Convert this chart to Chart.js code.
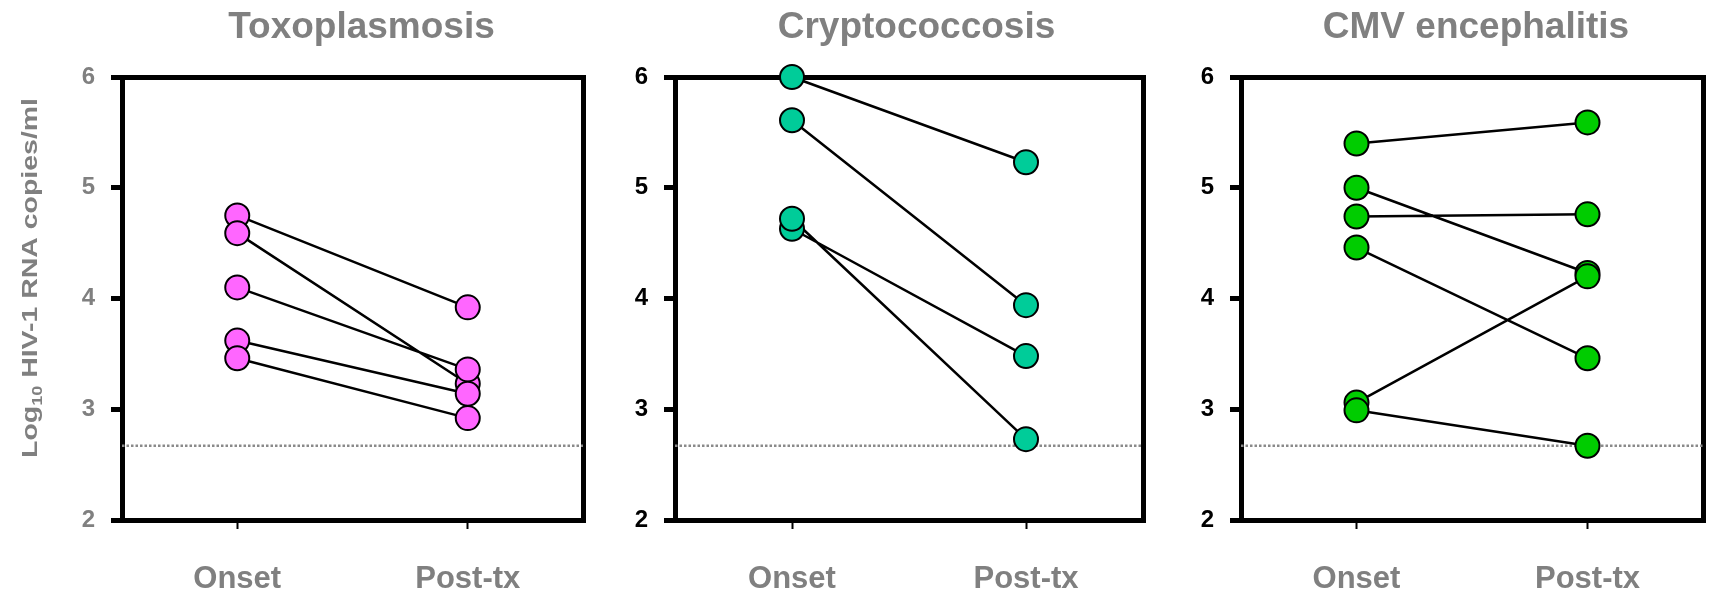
<!DOCTYPE html>
<html>
<head>
<meta charset="utf-8">
<script src="https://cdn.jsdelivr.net/npm/chart.js@4.4.1/dist/chart.umd.min.js"></script>
<style>
  html, body { margin: 0; padding: 0; background: #ffffff; overflow: hidden; }
  #wrap { position: relative; width: 1710px; height: 594px; overflow: hidden; }
  .panel { position: absolute; top: 0; height: 594px; }
  canvas { display: block; }
</style>
</head>
<body>
<div id="wrap">
  <div class="panel" id="p1"><canvas id="c1"></canvas></div>
  <div class="panel" id="p2"><canvas id="c2"></canvas></div>
  <div class="panel" id="p3"><canvas id="c3"></canvas></div>
</div>
<script>
// Time points and value axis
const timepoints = ['Onset', 'Post-tx'];
const yTickValues = [2, 3, 4, 5, 6];
const detectionLimit = 2.67;

// Log10 HIV-1 RNA copies/ml per patient, at onset and after treatment
const toxoOnset   = [4.75, 4.59, 4.10, 3.62, 3.46];
const toxoPost    = [3.92, 3.23, 3.36, 3.14, 2.92];
const cryptoOnset = [6.00, 5.61, 4.63, 4.72];
const cryptoPost  = [5.23, 3.94, 3.48, 2.73];
const cmvOnset    = [5.40, 5.00, 4.74, 4.46, 3.06, 2.99];
const cmvPost     = [5.59, 4.23, 4.76, 3.46, 4.20, 2.67];

const panelTitles = ['Toxoplasmosis', 'Cryptococcosis', 'CMV encephalitis'];

const FONT = '"Liberation Sans", Arial, Helvetica, sans-serif';
const GREY = '#808080';

// Paired points joined by a line; null rows break the line between patients
function pairedData(onset, post) {
  const out = [];
  onset.forEach((v, i) => {
    out.push({ x: 0, y: v });
    out.push({ x: 1, y: post[i] });
    out.push({ x: 0.5, y: null });
  });
  return out;
}

// Closed box around the plotting area, drawn under the markers
const framePlugin = {
  id: 'frame',
  beforeDatasetsDraw(chart) {
    const { ctx, chartArea: a } = chart;
    const al = v => Math.round(v - 2.5) + 2.5;
    ctx.save();
    ctx.strokeStyle = '#000';
    ctx.lineWidth = 5;
    ctx.lineJoin = 'miter';
    ctx.strokeRect(al(a.left), al(a.top), al(a.right) - al(a.left), al(a.bottom) - al(a.top));
    ctx.restore();
  }
};

// Rotated value-axis caption with a subscript
const yCaptionPlugin = {
  id: 'yCaption',
  afterDraw(chart, args, opts) {
    if (!opts.show) return;
    const ctx = chart.ctx;
    const F = opts.size;
    const base = `bold ${F}px ${FONT}`;
    const small = `bold ${Math.round(F * 0.62)}px ${FONT}`;
    ctx.save();
    ctx.font = base;
    const w1 = ctx.measureText('Log').width;
    const w3 = ctx.measureText(' HIV-1 RNA copies/ml').width;
    ctx.font = small;
    const w2 = ctx.measureText('10').width;
    const total = w1 + w2 + w3;
    const k = opts.length / total;
    ctx.translate(opts.x, opts.y);
    ctx.rotate(-Math.PI / 2);
    ctx.scale(k, 1);
    ctx.fillStyle = GREY;
    ctx.textBaseline = 'alphabetic';
    ctx.textAlign = 'left';
    const baseY = 0.358 * F;
    let x = -total / 2;
    ctx.font = base;
    ctx.fillText('Log', x, baseY);
    x += w1;
    ctx.font = small;
    ctx.fillText('10', x, baseY + 0.22 * F);
    x += w2;
    ctx.font = base;
    ctx.fillText(' HIV-1 RNA copies/ml', x, baseY);
    ctx.restore();
  }
};

const panels = [
  { id: 'c1', box: 'p1', left: 0,    width: 723, yWidth: 122, rightWidth: 140,
    onset: toxoOnset, post: toxoPost, fill: '#ff66ff', tickColor: GREY, caption: true },
  { id: 'c2', box: 'p2', left: 600,  width: 633, yWidth: 75,  rightWidth: 90,
    onset: cryptoOnset, post: cryptoPost, fill: '#00cc99', tickColor: '#000', caption: false },
  { id: 'c3', box: 'p3', left: 1160, width: 632, yWidth: 81,  rightWidth: 89,
    onset: cmvOnset, post: cmvPost, fill: '#00cc00', tickColor: '#000', caption: false }
];

panels.forEach((p, idx) => {
  const box = document.getElementById(p.box);
  box.style.left = p.left + 'px';
  box.style.width = p.width + 'px';
  const cv = document.getElementById(p.id);
  cv.width = p.width;
  cv.height = 594;
  cv.style.width = p.width + 'px';
  cv.style.height = '594px';

  new Chart(cv, {
    type: 'line',
    data: {
      datasets: [
        {
          data: pairedData(p.onset, p.post),
          borderColor: '#000',
          borderWidth: 2.5,
          spanGaps: false,
          pointRadius: 12,
          pointHoverRadius: 12,
          pointBorderWidth: 2,
          pointBorderColor: '#000',
          pointBackgroundColor: p.fill,
          clip: false,
          tension: 0
        },
        {
          data: [{ x: -0.5, y: detectionLimit }, { x: 1.5, y: detectionLimit }],
          borderColor: '#8a8a8a',
          borderWidth: 2.5,
          borderDash: [2.5, 2],
          pointRadius: 0,
          tension: 0
        }
      ]
    },
    options: {
      responsive: false,
      animation: false,
      events: [],
      devicePixelRatio: 1,
      layout: { padding: 0 },
      plugins: {
        legend: { display: false },
        tooltip: { enabled: false },
        title: {
          display: true,
          text: panelTitles[idx],
          color: GREY,
          font: { family: FONT, size: 37, weight: 'bold', lineHeight: 1.2 },
          padding: { top: 6, bottom: 26.6 }
        },
        yCaption: { show: p.caption, size: 22, length: 360, x: 29.5, y: 278 }
      },
      scales: {
        x: {
          type: 'linear',
          min: -0.5,
          max: 1.5,
          afterBuildTicks: s => { s.ticks = timepoints.map((_, i) => ({ value: i })); },
          afterFit: s => { s.height = 74; },
          ticks: {
            callback: v => timepoints[v],
            color: GREY,
            font: { family: FONT, size: 31, weight: 'bold', lineHeight: 1.2 },
            padding: 32,
            maxRotation: 0,
            autoSkip: false
          },
          grid: { display: true, drawOnChartArea: false, drawTicks: true,
                  tickLength: 9, tickWidth: 2, tickColor: '#000' },
          border: { display: true, width: 5, color: '#000' }
        },
        y: {
          type: 'linear',
          min: yTickValues[0],
          max: yTickValues[yTickValues.length - 1],
          afterBuildTicks: s => { s.ticks = yTickValues.map(v => ({ value: v })); },
          afterFit: s => { s.width = p.yWidth; },
          ticks: {
            color: p.tickColor,
            font: { family: FONT, size: 24, weight: 'bold' },
            padding: 16
          },
          grid: { display: true, drawOnChartArea: false, drawTicks: true,
                  tickLength: 11, tickWidth: 5, tickColor: '#000' },
          border: { display: true, width: 5, color: '#000' }
        },
        // empty right-hand margin so the title centres over the whole panel
        yRight: {
          type: 'linear',
          position: 'right',
          min: yTickValues[0],
          max: yTickValues[yTickValues.length - 1],
          afterFit: s => { s.width = p.rightWidth; },
          ticks: { display: false },
          grid: { display: false, drawTicks: false },
          border: { display: false }
        }
      }
    },
    plugins: [framePlugin, yCaptionPlugin]
  });
});
</script>
</body>
</html>
